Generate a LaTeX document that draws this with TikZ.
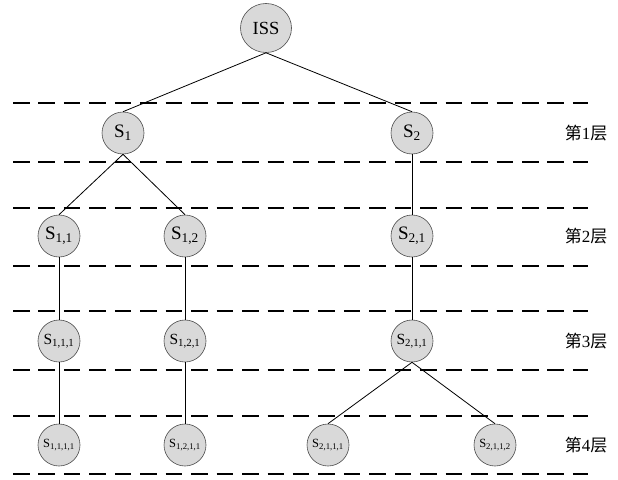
\documentclass[tikz,border=0pt]{standalone}
\usepackage{fontspec}
\setmainfont{Liberation Serif}
\newfontfamily\cjk{Noto Sans CJK SC}
\usetikzlibrary{shapes.geometric}
\newcommand{\layerlab}[1]{{\cjk 第}#1{\cjk 层}}
\begin{document}
\begin{tikzpicture}[x=1pt,y=-1pt,
  nd/.style={circle,draw=gray!60!black,line width=0.6pt,fill=gray!30,minimum size=42pt,inner sep=0pt},
  lv12/.style={font=\fontsize{19}{19}\selectfont},
  lv3/.style={font=\fontsize{15.5}{15.5}\selectfont},
  lv4/.style={font=\fontsize{12.5}{12.5}\selectfont},
  edge/.style={line width=0.8pt,black},
  sep/.style={line width=1.3pt,dash pattern=on 16.5pt off 8.95pt},
  lab/.style={font=\fontsize{17}{17}\selectfont,anchor=center}]
\useasboundingbox (0,0) rectangle (618,479);
\foreach \yy in {103,162,208,266,311,370,416,474}
  \draw[sep] (13,\yy) -- (588,\yy);
\node[ellipse,draw=gray!60!black,line width=0.6pt,fill=gray!30,minimum width=51pt,minimum height=49pt,inner sep=0pt,font=\fontsize{18.5}{18.5}\selectfont] (iss) at (266,28) {ISS};
\node[nd,lv12] (s1) at (123,133) {S\textsubscript{1}};
\node[nd,lv12] (s2) at (412,133) {S\textsubscript{2}};
\node[nd,lv12] (s11) at (59,236) {S\textsubscript{1,1}};
\node[nd,lv12] (s12) at (185,236) {S\textsubscript{1,2}};
\node[nd,lv12] (s21) at (412,236) {S\textsubscript{2,1}};
\node[nd,lv3] (s111) at (59,341) {S\textsubscript{1,1,1}};
\node[nd,lv3] (s121) at (185,341) {S\textsubscript{1,2,1}};
\node[nd,lv3] (s211) at (412,341) {S\textsubscript{2,1,1}};
\node[nd,lv4] (s1111) at (59,445) {S\textsubscript{1,1,1,1}};
\node[nd,lv4] (s1211) at (185,445) {S\textsubscript{1,2,1,1}};
\node[nd,lv4] (s2111) at (328,445) {S\textsubscript{2,1,1,1}};
\node[nd,lv4] (s2112) at (495,445) {S\textsubscript{2,1,1,2}};
\draw[edge] (iss.south) -- (s1.north);
\draw[edge] (iss.south) -- (s2.north);
\draw[edge] (s1.south) -- (s11.north);
\draw[edge] (s1.south) -- (s12.north);
\draw[edge] (s2.south) -- (s21.north);
\draw[edge] (s11.south) -- (s111.north);
\draw[edge] (s12.south) -- (s121.north);
\draw[edge] (s21.south) -- (s211.north);
\draw[edge] (s111.south) -- (s1111.north);
\draw[edge] (s121.south) -- (s1211.north);
\draw[edge] (s211.south) -- (s2111.north);
\draw[edge] (s211.south) -- (s2112.north);
\node[lab] (l1) at (586,133) {\layerlab{1}};
\node[lab] (l2) at (586,236) {\layerlab{2}};
\node[lab] (l3) at (586,341) {\layerlab{3}};
\node[lab] (l4) at (586,445) {\layerlab{4}};
\end{tikzpicture}
\end{document}
